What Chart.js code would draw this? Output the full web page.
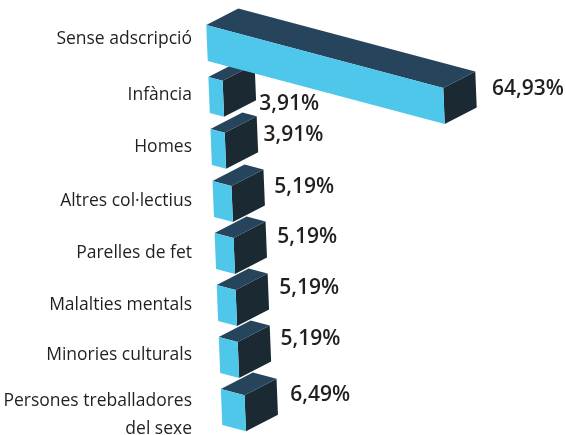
<!DOCTYPE html>
<html>
<head>
<meta charset="utf-8">
<style>
  html, body { margin: 0; padding: 0; background: #fff; }
  canvas { display: block; }
</style>
<script src="https://cdn.jsdelivr.net/npm/chart.js@4/dist/chart.umd.js"></script>
</head>
<body>
<canvas id="chart" width="566" height="435"></canvas>
<script>
'use strict';

const categories = [
  'Sense adscripció', 'Infància', 'Homes', 'Altres col·lectius',
  'Parelles de fet', 'Malalties mentals', 'Minories culturals',
  ['Persones treballadores', 'del sexe'],
];
const percentages = [64.93, 3.91, 3.91, 5.19, 5.19, 5.19, 5.19, 6.49];

// Hand placed labels in the original, so small per-row nudges (px)
const tickNudgeY  = [-4, 0, 0, 2, 2, 2, 0, 8];
const valueNudgeX = [16, 4, 6, 10, 11, 11, 10, 13];
const valueNudgeY = [-1, 21.5, 0.5, -1, -2.5, -3.5, -4.5, -1.5];

// Oblique projection of the flat bars
const SLOPE_Y = 0.266;
const DRIFT_X = 0.04;
const DEPTH_X = 32;
const DEPTH_Y = -16.5;

const COLOR_FRONT = '#4fc7ea';
const COLOR_TOP   = '#26455d';
const COLOR_SIDE  = '#1b2a32';
const COLOR_TEXT  = '#231f20';

class NudgedCategoryScale extends Chart.CategoryScale {
  getPixelForTick(index) {
    return super.getPixelForTick(index) + (tickNudgeY[index] || 0);
  }
}
NudgedCategoryScale.id = 'nudgedCategory';
NudgedCategoryScale.defaults = Chart.CategoryScale.defaults;
Chart.register(NudgedCategoryScale);

function projector(chart) {
  const u0 = chart.scales.x.getPixelForValue(0);
  const v0 = chart.scales.y.getPixelForValue(0);
  return {
    u0, v0,
    at: (u, v) => [u + DRIFT_X * (v - v0), v + SLOPE_Y * (u - u0)],
  };
}

function fillFace(ctx, pts, color) {
  ctx.beginPath();
  pts.forEach((p, i) => (i ? ctx.lineTo(p[0], p[1]) : ctx.moveTo(p[0], p[1])));
  ctx.closePath();
  ctx.fillStyle = color;
  ctx.fill();
}

const obliqueBars = {
  id: 'obliqueBars',
  beforeDatasetsDraw(chart) {
    const { ctx } = chart;
    const proj = projector(chart);
    const bars = chart.getDatasetMeta(0).data;

    ctx.save();
    // top and side faces, back to front; the library draws the front faces after
    for (let i = bars.length - 1; i >= 0; i--) {
      const b = bars[i];
      const top = b.y - b.height / 2;
      const bottom = b.y + b.height / 2;
      const tl = proj.at(b.base, top);
      const tr = proj.at(b.x, top);
      const br = proj.at(b.x, bottom);
      const back = p => [p[0] + DEPTH_X, p[1] + DEPTH_Y];
      fillFace(ctx, [tr, back(tr), back(br), br], COLOR_SIDE);
      fillFace(ctx, [tl, back(tl), back(tr), tr], COLOR_TOP);
    }
    ctx.transform(1, SLOPE_Y, DRIFT_X, 1, -DRIFT_X * proj.v0, -SLOPE_Y * proj.u0);
  },
  afterDatasetsDraw(chart) {
    const { ctx } = chart;
    ctx.restore();

    const proj = projector(chart);
    ctx.save();
    ctx.font = '600 21px "Open Sans", sans-serif';
    ctx.fillStyle = COLOR_TEXT;
    ctx.textAlign = 'left';
    ctx.textBaseline = 'middle';
    chart.getDatasetMeta(0).data.forEach((b, i) => {
      const p = proj.at(b.x, b.y);
      const text = percentages[i].toFixed(2).replace('.', ',') + '%';
      ctx.fillText(text, p[0] + DEPTH_X + valueNudgeX[i], p[1] + DEPTH_Y + valueNudgeY[i]);
    });
    ctx.restore();
  },
};

new Chart(document.getElementById('chart'), {
  type: 'bar',
  data: {
    labels: categories,
    datasets: [{
      data: percentages,
      backgroundColor: COLOR_FRONT,
      borderWidth: 0,
      barPercentage: 0.72,
      categoryPercentage: 1,
      clip: false,
    }],
  },
  options: {
    indexAxis: 'y',
    responsive: false,
    animation: false,
    layout: { padding: { top: 17, bottom: 2, right: 103.5 } },
    plugins: { legend: { display: false }, title: { display: false }, tooltip: { enabled: false } },
    scales: {
      x: { display: false, min: 0, max: 70 },
      y: {
        type: 'nudgedCategory',
        afterFit: scale => {
          // two line tick label must not eat the plot height
          scale.width = 207;
          scale.paddingTop = 0;
          scale.paddingBottom = 0;
        },
        grid: { display: false, drawTicks: false },
        border: { display: false },
        ticks: {
          color: COLOR_TEXT,
          padding: 15,
          autoSkip: false,
          font: { family: '"Open Sans", sans-serif', size: 17.5, weight: '500', lineHeight: 1.6 },
        },
      },
    },
  },
  plugins: [obliqueBars],
});
</script>
</body>
</html>
